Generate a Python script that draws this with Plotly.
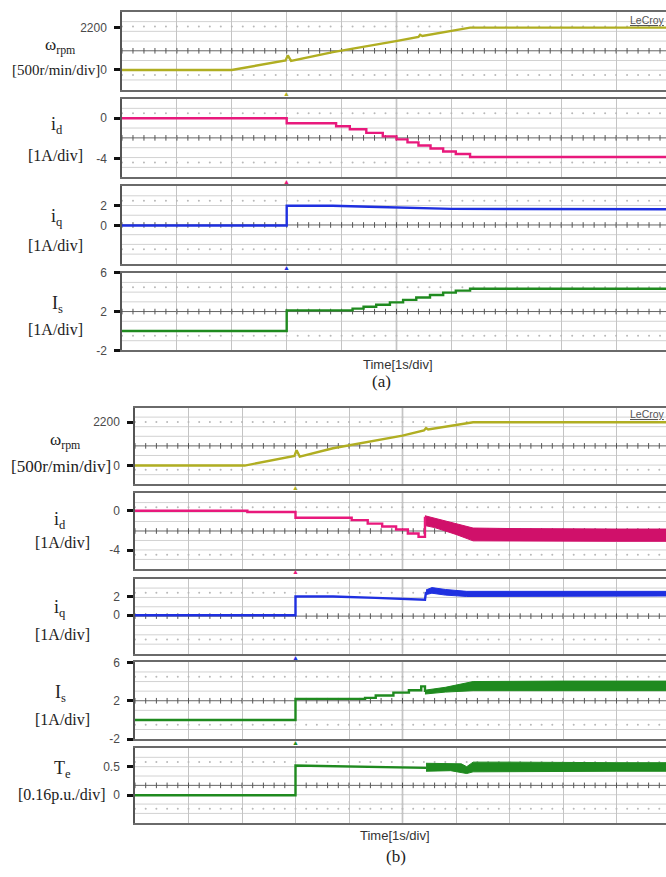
import plotly.graph_objects as go

W, H = 666, 877

# ---------------- figure (a): flux-weakening start, staircase reference ----------------
a_speed_t = [0, 2.0, 2.98, 3.02, 3.08, 3.84, 4.99, 5.40, 5.43, 5.47, 6.34, 9.91]
a_speed_v = [0, 0, 500, 760, 470, 930, 1500, 1720, 1830, 1770, 2200, 2200]

a_id_t = [0, 3.0, 3.9, 4.15, 4.45, 4.75, 5.0, 5.2, 5.4, 5.62, 5.85, 6.08, 6.34, 9.91]
a_id_v = [0, -0.5, -0.8, -1.1, -1.45, -1.8, -2.1, -2.4, -2.7, -3.0, -3.3, -3.55, -3.85, -3.85]

a_iq_t = [0, 3.0, 3.0, 3.84, 4.5, 5.0, 5.5, 6.0, 9.91]
a_iq_v = [0, 0, 2.0, 2.0, 1.9, 1.85, 1.75, 1.68, 1.65]

a_is_t = [0, 3.0, 4.2, 4.4, 4.63, 4.88, 5.12, 5.36, 5.61, 5.85, 6.08, 6.34, 9.91]
a_is_v = [0, 2.12, 2.3, 2.5, 2.7, 2.95, 3.2, 3.45, 3.7, 3.95, 4.15, 4.35, 4.35]

# ---------------- figure (b): with torque, ripple bands after transition ----------------
b_speed_t = [0, 2.05, 2.98, 3.02, 3.08, 3.7, 5.0, 5.40, 5.44, 5.48, 6.32, 9.93]
b_speed_v = [0, 0, 490, 780, 450, 880, 1520, 1780, 1900, 1830, 2200, 2200]

b_id_t = [0, 2.1, 3.0, 4.05, 4.35, 4.62, 4.88, 5.1, 5.3, 5.42]
b_id_v = [0, -0.12, -0.7, -0.95, -1.3, -1.6, -1.9, -2.3, -2.65, -0.6]
b_id_band_t = [5.42, 5.6, 6.0, 6.32, 7.0, 8.0, 9.0, 9.93]
b_id_band_hi = [-0.5, -0.75, -1.3, -1.75, -1.8, -1.85, -1.85, -1.85]
b_id_band_lo = [-1.5, -1.7, -2.4, -3.05, -3.1, -3.1, -3.1, -3.1]

b_iq_t = [0, 3.0, 3.0, 3.7, 4.5, 4.95, 5.35, 5.42, 5.44]
b_iq_v = [0, 0, 2.0, 2.0, 1.85, 1.72, 1.65, 1.65, 2.5]
b_iq_band_t = [5.44, 5.55, 5.8, 6.2, 7.0, 8.0, 9.0, 9.93]
b_iq_band_hi = [2.7, 2.95, 2.75, 2.55, 2.55, 2.55, 2.55, 2.55]
b_iq_band_lo = [2.2, 2.35, 2.15, 2.0, 2.05, 2.05, 2.05, 2.05]

b_is_t = [0, 3.0, 4.3, 4.5, 4.83, 5.12, 5.35, 5.42]
b_is_v = [0, 2.2, 2.3, 2.55, 2.85, 3.1, 3.5, 2.9]
b_is_band_t = [5.42, 5.8, 6.32, 7.0, 8.0, 9.0, 9.93]
b_is_band_hi = [3.1, 3.4, 4.0, 4.05, 4.05, 4.05, 4.05]
b_is_band_lo = [2.7, 2.9, 3.05, 3.05, 3.05, 3.05, 3.05]

b_te_t = [0, 3.0, 3.0, 5.44]
b_te_v = [0, 0, 0.52, 0.48]
b_te_band_t = [5.44, 5.9, 6.1, 6.2, 6.32, 7.0, 8.0, 9.0, 9.93]
b_te_band_hi = [0.56, 0.56, 0.55, 0.5, 0.58, 0.58, 0.57, 0.57, 0.57]
b_te_band_lo = [0.42, 0.43, 0.40, 0.38, 0.41, 0.41, 0.42, 0.42, 0.42]

# tick labels of each channel
tick_speed = [0, 2200]
tick_id = [0, -4]
tick_iq = [0, 2]
tick_is = [-2, 2, 6]
tick_te = [0, 0.5]

OLIVE = "#b0ae22"
PINK = "#e8197c"
PINK_B = "#d0106a"
BLUE = "#1f30e0"
GREEN = "#1f8a1f"

SERIF = "Liberation Serif"
SANS = "Liberation Sans"


def px(x):
    return x / W


def py(y):
    return 1 - y / H


# screen geometry: (left px, px per second, top px, bottom px, y-range)
panels = [
    # figure (a)
    dict(left=122, sec=54.9, top=5, bot=84, yr=[-1023, 3019], ticks=tick_speed,
         traces=[(a_speed_t, a_speed_v, OLIVE, "linear")], bands=[], trig=88),
    dict(left=122, sec=54.9, top=93, bot=173, yr=[-5.85, 1.95], ticks=tick_id,
         traces=[(a_id_t, a_id_v, PINK, "hv")], bands=[], trig=177),
    dict(left=122, sec=54.9, top=182, bot=261, yr=[-3.9, 4.0], ticks=tick_iq,
         traces=[(a_iq_t, a_iq_v, BLUE, "linear")], bands=[], trig=265),
    dict(left=122, sec=54.9, top=270, bot=349, yr=[-2, 6], ticks=tick_is,
         traces=[(a_is_t, a_is_v, GREEN, "hv")], bands=[], trig=None),
    # figure (b)
    dict(left=135, sec=53.5, top=407, bot=485, yr=[-950, 2950], ticks=tick_speed,
         traces=[(b_speed_t, b_speed_v, OLIVE, "linear")], bands=[], trig=488),
    dict(left=135, sec=53.5, top=494, bot=571, yr=[-5.9, 1.8], ticks=tick_id,
         traces=[(b_id_t, b_id_v, PINK, "hv")],
         bands=[(b_id_band_t, b_id_band_hi, b_id_band_lo, PINK_B)], trig=574),
    dict(left=135, sec=53.5, top=581, bot=657, yr=[-4.1, 3.9], ticks=tick_iq,
         traces=[(b_iq_t, b_iq_v, BLUE, "linear")],
         bands=[(b_iq_band_t, b_iq_band_hi, b_iq_band_lo, BLUE)], trig=661),
    dict(left=135, sec=53.5, top=666, bot=744, yr=[-2, 6], ticks=tick_is,
         traces=[(b_is_t, b_is_v, GREEN, "hv")],
         bands=[(b_is_band_t, b_is_band_hi, b_is_band_lo, GREEN)], trig=747),
    dict(left=135, sec=53.5, top=753, bot=829, yr=[-0.483, 0.828], ticks=tick_te,
         traces=[(b_te_t, b_te_v, GREEN, "linear")],
         bands=[(b_te_band_t, b_te_band_hi, b_te_band_lo, GREEN)], trig=None),
]

fig = go.Figure()
layout = dict(
    width=W, height=H, margin=dict(l=0, r=0, t=0, b=0),
    paper_bgcolor="white", plot_bgcolor="white", showlegend=False,
)
shapes = []
annotations = []

for k, p in enumerate(panels, start=1):
    xa = "x" if k == 1 else f"x{k}"
    ya = "y" if k == 1 else f"y{k}"
    tmax = (W - p["left"]) / p["sec"]
    layout["xaxis" if k == 1 else f"xaxis{k}"] = dict(
        domain=[px(p["left"]), 1.0], range=[0, tmax], anchor=ya,
        showgrid=True, gridcolor="#c4c4c4", gridwidth=1, dtick=1, tick0=0,
        showticklabels=False, ticks="", zeroline=False,
        showline=True, mirror=True, linecolor="#6a6a6a", linewidth=1.5,
    )
    layout["yaxis" if k == 1 else f"yaxis{k}"] = dict(
        domain=[py(p["bot"]), py(p["top"])], range=p["yr"], anchor=xa,
        showgrid=False, zeroline=False,
        showline=True, mirror=False, linecolor="#555", linewidth=1.5,
        tickvals=p["ticks"], ticktext=[f"{v:g}" for v in p["ticks"]],
        ticks="outside", ticklen=6, tickwidth=3, tickcolor="#111",
        ticklabelstandoff=5,
        tickfont=dict(family=SANS, size=12, color="#4a4a4a"),
    )

    # horizontal graticule
    for f in (0.125, 0.25, 0.375, 0.625, 0.75, 0.875):
        shapes.append(dict(type="line", xref=f"{xa} domain", yref=f"{ya} domain",
                           x0=0, x1=1, y0=f, y1=f,
                           line=dict(color="#d2d2d2", width=1), layer="below"))
    shapes.append(dict(type="line", xref=f"{xa} domain", yref=f"{ya} domain",
                       x0=0, x1=1, y0=0.5, y1=0.5,
                       line=dict(color="#666", width=1), layer="below"))
    shapes.append(dict(type="line", xref=xa, yref=f"{ya} domain",
                       x0=5, x1=5, y0=0, y1=1,
                       line=dict(color="#707070", width=1.3), layer="below"))

    # minor-division markers on the centre line and dotted rows
    y0, y1 = p["yr"]
    span = y1 - y0
    sub_t = [i * 0.2 for i in range(int(tmax / 0.2) + 1)]
    fig.add_trace(go.Scatter(
        x=sub_t, y=[y0 + 0.5 * span] * len(sub_t), mode="markers",
        marker=dict(symbol="line-ns", size=4, line=dict(color="#555", width=1)),
        xaxis=xa, yaxis=ya, hoverinfo="skip"))
    for f in (0.1875, 0.8125):
        fig.add_trace(go.Scatter(
            x=sub_t, y=[y0 + f * span] * len(sub_t), mode="markers",
            marker=dict(symbol="circle", size=2, color="#b8b8b8"),
            xaxis=xa, yaxis=ya, hoverinfo="skip"))

    # ripple envelopes
    for bt, hi, lo, col in p["bands"]:
        fig.add_trace(go.Scatter(
            x=list(bt) + list(bt)[::-1], y=list(hi) + list(lo)[::-1],
            mode="lines", fill="toself", fillcolor=col,
            line=dict(color=col, width=1), xaxis=xa, yaxis=ya, hoverinfo="skip"))
    # waveforms
    for tt, vv, col, shp in p["traces"]:
        fig.add_trace(go.Scatter(
            x=tt, y=vv, mode="lines", line=dict(color=col, width=2.4, shape=shp),
            xaxis=xa, yaxis=ya, hoverinfo="skip"))

    # trigger-position marker
    if p["trig"] is not None:
        annotations.append(dict(
            x=3.0, xref=xa, y=py(p["trig"]), yref="paper", text="▲",
            showarrow=False, font=dict(size=7, color=p["traces"][0][2]),
            xanchor="center", yanchor="middle"))


def label(x, y, text, size, family=SERIF, color="#222", anchor="center"):
    annotations.append(dict(x=px(x), y=py(y), xref="paper", yref="paper", text=text,
                            showarrow=False, xanchor=anchor, yanchor="middle",
                            font=dict(family=family, size=size, color=color)))


SUB = "<sub>{}</sub>"
# channel names, figure (a)
label(60, 40, "ω" + SUB.format("rpm"), 17)
label(56, 64, "[500r/min/div]", 15)
label(57, 120, "i" + SUB.format("d"), 18)
label(55, 151, "[1A/div]", 16)
label(57, 214, "i" + SUB.format("q"), 18)
label(55, 242, "[1A/div]", 16)
label(57, 302, "I" + SUB.format("s"), 18)
label(55, 328, "[1A/div]", 16)
# channel names, figure (b)
label(65, 441, "ω" + SUB.format("rpm"), 17)
label(61, 467, "[500r/min/div]", 17)
label(60, 522, "i" + SUB.format("d"), 18)
label(62, 544, "[1A/div]", 16)
label(60, 611, "i" + SUB.format("q"), 18)
label(62, 638, "[1A/div]", 16)
label(60, 698, "I" + SUB.format("s"), 18)
label(62, 724, "[1A/div]", 16)
label(62, 775, "T" + SUB.format("e"), 18)
label(62, 801, "[0.16p.u./div]", 16)

# time base and captions
label(398, 363, "Time[1s/div]", 13, family=SANS, color="#333")
label(382, 381, "(a)", 17)
label(395, 842, "Time[1s/div]", 13, family=SANS, color="#333")
label(396, 863, "(b)", 17)
label(628, 13, "<u>LeCroy</u>", 10.5, family=SANS, color="#555", anchor="left")
label(628, 414, "<u>LeCroy</u>", 10.5, family=SANS, color="#555", anchor="left")

layout["shapes"] = shapes
layout["annotations"] = annotations
fig.update_layout(**layout)
fig.update_traces(showlegend=False)
fig.write_html("out.html")
